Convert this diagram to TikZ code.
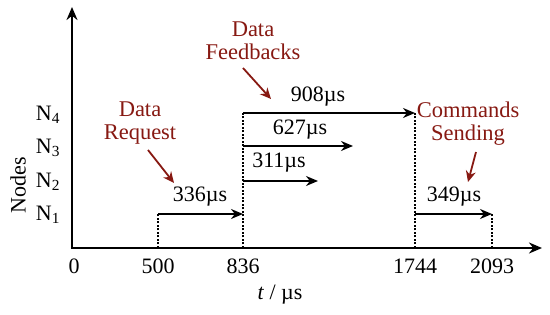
\documentclass[tikz,border=0pt]{standalone}
\usepackage{fontspec}
\setmainfont{Liberation Serif}
\usetikzlibrary{arrows.meta}
\definecolor{notered}{RGB}{135,25,18}
\begin{document}
\begin{tikzpicture}[x=1pt,y=1pt,
  every node/.style={font=\fontsize{22}{23}\selectfont, inner sep=1pt},
  axis/.style={line width=2.2pt,-{Stealth[length=13pt,width=11pt]}},
  dur/.style={line width=1.8pt,-{Stealth[length=12pt,width=10pt]}},
  guide/.style={dash pattern=on 2pt off 1.5pt, line width=1.3pt},
  note/.style={text=notered, align=center, font=\fontsize{22.5}{23}\selectfont},
  pointer/.style={notered, line width=1.8pt, -{Stealth[length=11pt,width=10pt]}}]
\useasboundingbox (0,0) rectangle (550,315);
% axes
\coordinate (O) at (72,67);
\coordinate (ytop) at (72,308);
\coordinate (xend) at (542,67);
\coordinate (Ox) at (70.9,67);
\draw[axis] (O) -- (ytop);
\draw[axis] (Ox) -- (xend);
% time points on axis
\coordinate (t500) at (158,67);
\coordinate (t836) at (243,67);
\coordinate (t1744) at (415,67);
\coordinate (t2093) at (492,67);
% arrow ends
\coordinate (a1s) at (158,101); \coordinate (a1e) at (243,101);
\coordinate (a2s) at (243,134); \coordinate (a2e) at (318,134);
\coordinate (a3s) at (243,169); \coordinate (a3e) at (353,169);
\coordinate (a4s) at (243,202); \coordinate (a4e) at (415,202);
\coordinate (a5s) at (415,101); \coordinate (a5e) at (492,101);
% guides
\draw[guide] (t500) -- (a1s);
\draw[guide] (t836) -- (a4s);
\draw[guide] (t1744) -- (a4e);
\draw[guide] (t2093) -- (a5e);
% durations
\draw[dur] (a1s) -- (a1e);
\draw[dur] (a2s) -- (a2e);
\draw[dur] (a3s) -- (a3e);
\draw[dur] (a4s) -- (a4e);
\draw[dur] (a5s) -- (a5e);
\node (l1) at (200,118) {336µs};
\node (l2) at (279,152) {311µs};
\node (l3) at (300,185) {627µs};
\node (l4) at (318,218) {908µs};
\node (l5) at (454,118) {349µs};
% tick labels
\node (x0) at (74,49) {0};
\node (x500) at (158,49) {500};
\node (x836) at (243,49) {836};
\node (x1744) at (415,49) {1744};
\node (x2093) at (492,49) {2093};
\node (xlab) at (280,20) {\textit{t} / µs};
% y labels
\node (n4) at (48,200) {N\textsubscript{4}};
\node (n3) at (48,167) {N\textsubscript{3}};
\node (n2) at (48,133) {N\textsubscript{2}};
\node (n1) at (48,100) {N\textsubscript{1}};
\node[rotate=90] (ylab) at (18,130) {Nodes};
% notes
\node[note] (req) at (140,192) {Data\\Request};
\node[note] (fb) at (253,274) {Data\\Feedbacks};
\node[note] (cmd) at (468,191) {Commands\\Sending};
\coordinate (reqs) at (148,165);
\coordinate (reqp) at (174,132);
\coordinate (fbs) at (243,247);
\coordinate (fbp) at (271,216);
\coordinate (cmds) at (476,163);
\coordinate (cmdp) at (468,133);
\draw[pointer] (reqs) -- (reqp);
\draw[pointer] (fbs) -- (fbp);
\draw[pointer] (cmds) -- (cmdp);
\end{tikzpicture}
\end{document}
